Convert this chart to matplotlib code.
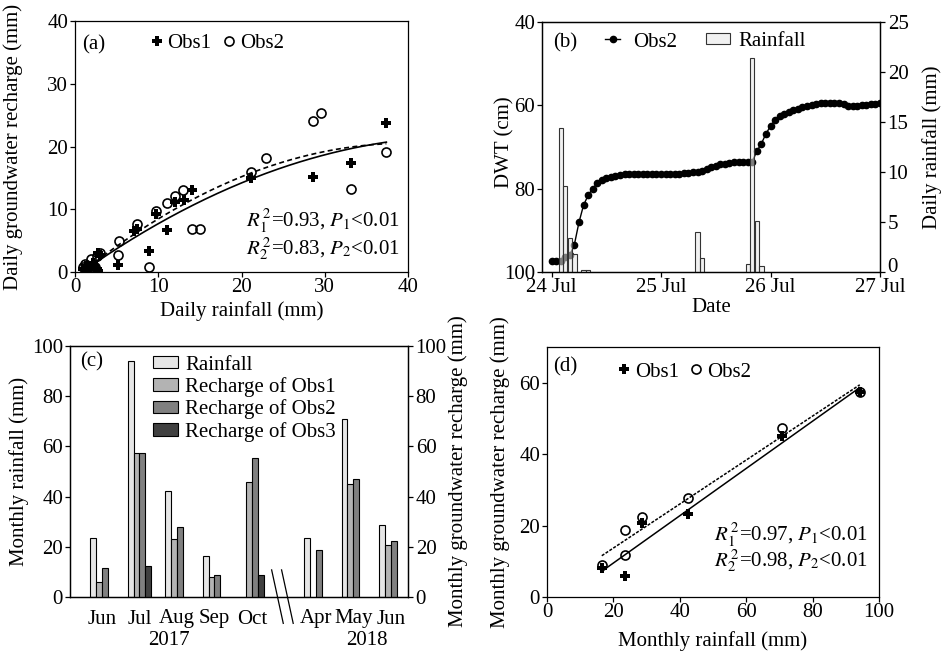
import numpy as np
import matplotlib
matplotlib.use('Agg')
import matplotlib.pyplot as plt
import matplotlib.transforms as mtransforms

plt.rcParams['font.family'] = ['Liberation Serif', 'DejaVu Serif']
plt.rcParams['mathtext.fontset'] = 'stix'
plt.rcParams['font.size'] = 15
plt.rcParams['axes.linewidth'] = 0.9
plt.rcParams['xtick.direction'] = 'out'
plt.rcParams['ytick.direction'] = 'out'
plt.rcParams['xtick.major.size'] = 3.5
plt.rcParams['ytick.major.size'] = 3.5
plt.rcParams['xtick.major.width'] = 0.9
plt.rcParams['ytick.major.width'] = 0.9
plt.rcParams['xtick.major.pad'] = 1
plt.rcParams['ytick.major.pad'] = 1.5

# ---------------- (a) daily rainfall vs daily recharge ----------------
a_obs1_rain = [1.0, 1.3, 1.5, 2.2, 2.6, 2.8, 2.8, 3.0, 5.2, 7.1, 7.4, 8.9, 9.7,
               11.0, 12.0, 13.1, 14.0, 21.1, 28.6, 33.2, 37.4]
a_obs1_rech = [0.5, 1.0, 0.3, 1.5, 0.4, 0.1, 3.0, 2.7, 1.1, 6.6, 6.9, 3.4, 9.2,
               6.7, 11.2, 11.4, 13.0, 15.0, 15.2, 17.3, 23.7]
a_obs2_rain = [1.0, 1.2, 1.4, 1.9, 2.4, 2.7, 3.0, 5.2, 5.3, 7.5, 8.9, 9.7, 11.0,
               12.0, 13.0, 14.1, 15.0, 21.1, 22.9, 28.6, 29.6, 33.2, 37.4]
a_obs2_rech = [0.8, 1.3, 0.5, 2.1, 0.8, 2.6, 3.0, 2.7, 5.0, 7.6, 0.8, 9.8, 11.0,
               12.1, 13.0, 6.9, 6.9, 15.9, 18.2, 24.0, 25.3, 13.3, 19.2]
a_stats = [r'$R_1^{\,2}$=0.93, $P_1$<0.01', r'$R_2^{\,2}$=0.83, $P_2$<0.01']

# ---------------- (b) DWT of Obs2 and rainfall ----------------
b_dwt = [97.4, 97.4, 97.3, 96.5, 96.0, 93.4, 88.1, 84.0, 81.6, 80.0, 78.7, 78.0,
         77.5, 77.1, 76.9, 76.7, 76.6, 76.5, 76.4, 76.4, 76.4, 76.4, 76.4, 76.4,
         76.4, 76.4, 76.4, 76.4, 76.4, 76.3, 76.2, 76.1, 76.0, 75.8, 75.4, 74.9,
         74.5, 74.2, 74.0, 73.8, 73.7, 73.6, 73.6, 73.6, 73.5, 71.0, 69.2, 66.8,
         65.0, 63.5, 62.6, 62.0, 61.6, 61.2, 60.9, 60.5, 60.2, 59.9, 59.7, 59.5,
         59.4, 59.4, 59.4, 59.5, 59.8, 60.1, 60.2, 60.1, 60.0, 59.9, 59.8, 59.6,
         59.5]
b_rain_hour = [2, 3, 4, 5, 7, 8, 32, 33, 43, 44, 45, 46]
b_rain = [14.4, 8.6, 3.4, 1.8, 0.2, 0.2, 4.0, 1.4, 0.8, 21.4, 5.1, 0.6]
b_date_ticks = [0, 24, 48, 72]
b_date_labels = ['24 Jul', '25 Jul', '26 Jul', '27 Jul']
b_rain_ticks = [0, 5, 10, 15, 20, 25]

# ---------------- (c) monthly rainfall and recharge ----------------
c_months = ['Jun', 'Jul', 'Aug', 'Sep', 'Oct', 'Apr', 'May', 'Jun']
c_years = ['2017', '2018']
c_rain = [23.4, 94.2, 42.4, 16.5, np.nan, 23.4, 70.9, 28.5]
c_obs1 = [6.0, 57.4, 23.3, 8.0, 45.9, np.nan, 45.0, 20.6]
c_obs2 = [11.7, 57.4, 27.8, 8.9, 55.2, 18.8, 47.2, 22.3]
c_obs3 = [np.nan, 12.4, np.nan, np.nan, 8.9, np.nan, np.nan, np.nan]
c_series = ['Rainfall', 'Recharge of Obs1', 'Recharge of Obs2', 'Recharge of Obs3']

d_stats = [r'$R_1^{\,2}$=0.97, $P_1$<0.01', r'$R_2^{\,2}$=0.98, $P_2$<0.01']

# ---------------- figure ----------------
W, H = 943, 656
fig = plt.figure(figsize=(W / 100, H / 100), dpi=100)


def add_ax(l, r, t, b):
    return fig.add_axes([l / W, (H - b) / H, (r - l) / W, (b - t) / H])


axA = add_ax(75, 408, 21, 272)
axB = add_ax(542, 880, 22, 272)
axC = add_ax(70, 408, 346, 597)
axD = add_ax(547, 879, 347, 597)

plus_kw = dict(ls='none', marker='P', ms=7, color='k', mew=0)
circ_kw = dict(ls='none', marker='o', ms=6.5, mfc='none', mec='k', mew=1.2)

# ----- (a)
axA.plot(a_obs1_rain, a_obs1_rech, label='Obs1', **plus_kw)
axA.plot(a_obs2_rain, a_obs2_rech, label='Obs2', **circ_kw)
for xs, ys, ls in ((a_obs1_rain, a_obs1_rech, '-'), (a_obs2_rain, a_obs2_rech, (0, (3, 2)))):
    cf = np.polyfit(xs, ys, 2)
    xx = np.linspace(min(xs), max(xs), 200)
    axA.plot(xx, np.polyval(cf, xx), color='k', ls=ls, lw=1.2)
axA.set_xlim(0, 40)
axA.set_ylim(0, 40)
axA.set_xticks([0, 10, 20, 30, 40])
axA.set_yticks([0, 10, 20, 30, 40])
axA.set_xlabel('Daily rainfall (mm)')
axA.set_ylabel('Daily groundwater recharge (mm)')
axA.xaxis.set_label_coords(0.5, -0.115)
axA.yaxis.set_label_coords(-0.155, 0.5)
axA.text(0.02, 0.905, '(a)', transform=axA.transAxes, ha='left', va='center')
axA.legend(loc='upper left', bbox_to_anchor=(0.228, 0.95), ncol=2, frameon=False,
           borderpad=0, borderaxespad=0, handlelength=0.6, handletextpad=0.2,
           columnspacing=0.55)
axA.text(0.976, 0.20, a_stats[0], transform=axA.transAxes, ha='right', va='center')
axA.text(0.976, 0.095, a_stats[1], transform=axA.transAxes, ha='right', va='center')

# ----- (b)
b_hours = np.arange(len(b_dwt))
lnB, = axB.plot(b_hours, b_dwt, color='k', marker='o', ms=4.5, lw=1.0, label='Obs2')
axB.set_ylim(100, 40)
axB.set_yticks([40, 60, 80, 100])
axB.set_xlim(-2.1, 72)
axB.set_xticks(b_date_ticks)
axB.set_xticklabels(b_date_labels)
axB.set_xlabel('Date')
axB.set_ylabel('DWT (cm)')
axB.xaxis.set_label_coords(0.5, -0.105)
axB.yaxis.set_label_coords(-0.082, 0.52)
axB2 = axB.twinx()
brB = axB2.bar(b_rain_hour, b_rain, width=0.95, facecolor=(0.9, 0.9, 0.9, 0.55),
               edgecolor='#333333', lw=0.8, label='Rainfall')
axB2.set_ylim(0, 25)
axB2.set_yticks(b_rain_ticks)
axB2.set_yticklabels([str(t) for t in b_rain_ticks])
axB2.get_yticklabels()[0].set_verticalalignment('baseline')
axB2.set_ylabel('Daily rainfall (mm)')
axB2.yaxis.set_label_coords(1.125, 0.5)
axB2.tick_params(axis='y', pad=2)
axB.text(0.033, 0.918, '(b)', transform=axB.transAxes, ha='left', va='center')
legB1 = axB2.legend([lnB], ['Obs2'], loc='upper left', bbox_to_anchor=(0.186, 0.96),
                    frameon=False, borderpad=0, borderaxespad=0, handlelength=0.75,
                    handletextpad=0.6)
axB2.add_artist(legB1)
axB2.legend([brB], ['Rainfall'], loc='upper left', bbox_to_anchor=(0.485, 0.96),
            frameon=False, borderpad=0, borderaxespad=0, handlelength=1.15,
            handleheight=0.4, handletextpad=0.43)

# ----- (c)
pos = np.array([0, 1, 2, 3, 4, 5.7, 6.7, 7.7])
w = 0.155
colors_c = ['#e6e6e6', '#b3b3b3', '#808080', '#404040']
axC2 = axC.twinx()
hC = []
hC.append(axC.bar(pos - 1.5 * w, c_rain, w, color=colors_c[0], ec='k', lw=0.8))
for k, vals in enumerate((c_obs1, c_obs2, c_obs3)):
    hC.append(axC2.bar(pos + (k - 0.5) * w, vals, w, color=colors_c[k + 1], ec='k', lw=0.8))
for a in (axC, axC2):
    a.set_ylim(0, 100)
    a.set_yticks([0, 20, 40, 60, 80, 100])
axC.set_xlim(-0.85, 8.16)
axC.set_xticks(pos)
axC.set_xticklabels(c_months)
axC.tick_params(axis='x', length=0, pad=9)
axC.set_ylabel('Monthly rainfall (mm)')
axC.yaxis.set_label_coords(-0.12, 0.5)
axC2.set_ylabel('Monthly groundwater recharge (mm)')
axC2.yaxis.set_label_coords(1.12, 0.5)
axC2.tick_params(axis='y', pad=2)
trC = mtransforms.blended_transform_factory(axC.transData, axC.transAxes)
axC.text(1.8, -0.175, c_years[0], transform=trC, ha='center', va='center')
axC.text(7.07, -0.175, c_years[1], transform=trC, ha='center', va='center')
brk = (pos[4] + pos[5]) / 2
for off in (-0.325, -0.06):
    axC.plot([brk + off, brk + off + 0.31], [0.108, -0.105], transform=trC,
             color='k', lw=0.9, clip_on=False)
axC.text(0.03, 0.936, '(c)', transform=axC.transAxes, ha='left', va='center')
axC2.legend(hC, c_series, loc='upper left', bbox_to_anchor=(0.245, 0.962), frameon=False,
            borderpad=0, borderaxespad=0, handlelength=1.2, handleheight=0.55,
            handletextpad=0.35, labelspacing=0.12)

# ----- (d)
d_obs1_x = [r for r, o in zip(c_rain, c_obs1) if not (np.isnan(r) or np.isnan(o))]
d_obs1_y = [o for r, o in zip(c_rain, c_obs1) if not (np.isnan(r) or np.isnan(o))]
d_obs2_x = [r for r, o in zip(c_rain, c_obs2) if not (np.isnan(r) or np.isnan(o))]
d_obs2_y = [o for r, o in zip(c_rain, c_obs2) if not (np.isnan(r) or np.isnan(o))]
axD.plot(d_obs1_x, d_obs1_y, label='Obs1', **plus_kw)
axD.plot(d_obs2_x, d_obs2_y, label='Obs2', **circ_kw)
for xs, ys, ls in ((d_obs1_x, d_obs1_y, '-'), (d_obs2_x, d_obs2_y, (0, (2, 1)))):
    cf = np.polyfit(xs, ys, 1)
    xx = np.array([min(xs), max(xs)])
    axD.plot(xx, np.polyval(cf, xx), color='k', ls=ls, lw=1.1)
axD.set_xlim(0, 100)
axD.set_ylim(0, 70)
axD.set_xticks([0, 20, 40, 60, 80, 100])
axD.set_yticks([0, 20, 40, 60])
axD.set_xlabel('Monthly rainfall (mm)')
axD.set_ylabel('Monthly groundwater recharge (mm)')
axD.xaxis.set_label_coords(0.5, -0.135)
axD.yaxis.set_label_coords(-0.112, 0.5)
axD.text(0.018, 0.92, '(d)', transform=axD.transAxes, ha='left', va='center')
axD.legend(loc='upper left', bbox_to_anchor=(0.214, 0.94), ncol=2, frameon=False,
           borderpad=0, borderaxespad=0, handlelength=0.6, handletextpad=0.2,
           columnspacing=0.55)
axD.text(0.967, 0.248, d_stats[0], transform=axD.transAxes, ha='right', va='center')
axD.text(0.967, 0.144, d_stats[1], transform=axD.transAxes, ha='right', va='center')

fig.savefig('out.png', dpi=100)
